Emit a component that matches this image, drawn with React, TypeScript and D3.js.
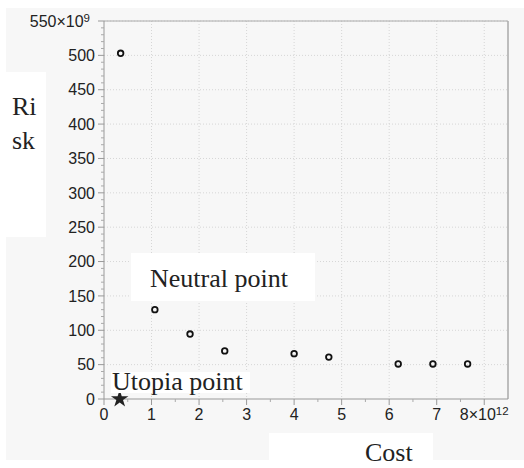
import React from "react";
import * as d3 from "d3";

// Data (cost in units of 10^12, risk in units of 10^9)
const costValues = [0.35, 1.07, 1.81, 2.54, 4.0, 4.73, 6.19, 6.92, 7.65];
const riskValues = [503, 130, 94.5, 70, 66, 61, 51, 51, 51];
const utopiaCost = [0.33];
const utopiaRisk = [0];
const xTickValues = [0, 1, 2, 3, 4, 5, 6, 7, 8];
const yTickValues = [0, 50, 100, 150, 200, 250, 300, 350, 400, 450, 500, 550];
const xLabel = "Cost";
const yLabelLines = ["Ri", "sk"];
const neutralLabel = "Neutral point";
const utopiaLabel = "Utopia point";

const W = 524;
const H = 468;
const M = { left: 104, right: 508, top: 21, bottom: 399 };

export default function App() {
  const x = d3.scaleLinear().domain([0, 8.5]).range([M.left, M.right]);
  const y = d3.scaleLinear().domain([0, 550]).range([M.bottom, M.top]);
  const xMinor = d3.range(0.5, 8.5, 1);
  const yMinor = d3.range(0, 551, 10).filter((v) => v % 50 !== 0);
  const star = d3.symbol().type(d3.symbolStar).size(95)();
  const tickFont = "'Liberation Sans', Arial, Helvetica, sans-serif";
  const serif = "'Liberation Serif', 'Times New Roman', serif";

  return (
    <svg
      width={W}
      height={H}
      style={{ position: "absolute", left: 0, top: 0, background: "#fff" }}
    >
      <rect x={6} y={8} width={W - 6} height={452} fill="#f7f7f7" />
      {/* grid */}
      {xTickValues.filter((v) => v > 0).map((v) => (
        <line key={"gx" + v} x1={x(v)} x2={x(v)} y1={M.top} y2={M.bottom}
          stroke="#d6d6d6" strokeWidth={1} strokeDasharray="1,2" />
      ))}
      {yTickValues.filter((v) => v > 0).map((v) => (
        <line key={"gy" + v} x1={M.left} x2={M.right} y1={y(v)} y2={y(v)}
          stroke="#d6d6d6" strokeWidth={1} strokeDasharray="1,2" />
      ))}
      {/* frame */}
      <line x1={M.left} x2={M.right} y1={M.top} y2={M.top} stroke="#aaa" strokeWidth={1} />
      <line x1={M.right} x2={M.right} y1={M.top} y2={M.bottom} stroke="#aaa" strokeWidth={1.5} />
      {/* axes */}
      <line x1={M.left} x2={M.left} y1={M.top} y2={M.bottom} stroke="#999" strokeWidth={1} />
      <line x1={M.left} x2={M.right} y1={M.bottom} y2={M.bottom} stroke="#999" strokeWidth={1} />
      {yTickValues.map((v) => (
        <line key={"yt" + v} x1={M.left - 6} x2={M.left} y1={y(v)} y2={y(v)} stroke="#999" />
      ))}
      {yMinor.map((v) => (
        <line key={"ym" + v} x1={M.left - 3} x2={M.left} y1={y(v)} y2={y(v)} stroke="#aaa" />
      ))}
      {xTickValues.map((v) => (
        <line key={"xt" + v} x1={x(v)} x2={x(v)} y1={M.bottom} y2={M.bottom + 6} stroke="#999" />
      ))}
      {xMinor.map((v) => (
        <line key={"xm" + v} x1={x(v)} x2={x(v)} y1={M.bottom} y2={M.bottom + 3} stroke="#aaa" />
      ))}
      {/* tick labels */}
      {yTickValues.map((v) => (
        <text key={"yl" + v} x={v === 550 ? M.left - 14 : M.left - 9} y={y(v)} dy="0.36em"
          textAnchor="end" fontFamily={tickFont} fontSize={16} fill="#222">
          {v}
          {v === 550 ? (
            <>
              {"×10"}
              <tspan dy="-0.45em" fontSize={11.5}>9</tspan>
            </>
          ) : null}
        </text>
      ))}
      {xTickValues.map((v) => (
        <text key={"xl" + v} x={x(v)} y={M.bottom + 21} textAnchor="middle"
          fontFamily={tickFont} fontSize={16} fill="#222">
          {v}
          {v === 8 ? (
            <>
              {"×10"}
              <tspan dy="-0.45em" fontSize={11.5}>12</tspan>
            </>
          ) : null}
        </text>
      ))}
      {/* points */}
      {costValues.map((c, i) => (
        <circle key={"p" + i} cx={x(c)} cy={y(riskValues[i])} r={2.8}
          fill="none" stroke="#111" strokeWidth={1.8} />
      ))}
      {utopiaCost.map((c, i) => (
        <path key={"u" + i} d={star ?? ""} transform={`translate(${x(c)},${y(utopiaRisk[i])})`}
          fill="#222" />
      ))}
      {/* annotation boxes */}
      <rect x={0} y={72} width={46} height={165} fill="#fff" />
      {yLabelLines.map((s, i) => (
        <text key={"yl" + i} x={12} y={115 + i * 34} fontFamily={serif} fontSize={26} fill="#222">
          {s}
        </text>
      ))}
      <rect x={131} y={253} width={184} height={48} fill="#fff" />
      <text x={150} y={287} fontFamily={serif} fontSize={26} fill="#222">{neutralLabel}</text>
      <rect x={111} y={372} width={139} height={21} fill="#fff" />
      <text x={112} y={390} fontFamily={serif} fontSize={26} fill="#222">{utopiaLabel}</text>
      <rect x={269} y={433} width={164} height={35} fill="#fff" />
      <text x={365} y={461} fontFamily={serif} fontSize={26} fill="#222">{xLabel}</text>
    </svg>
  );
}
